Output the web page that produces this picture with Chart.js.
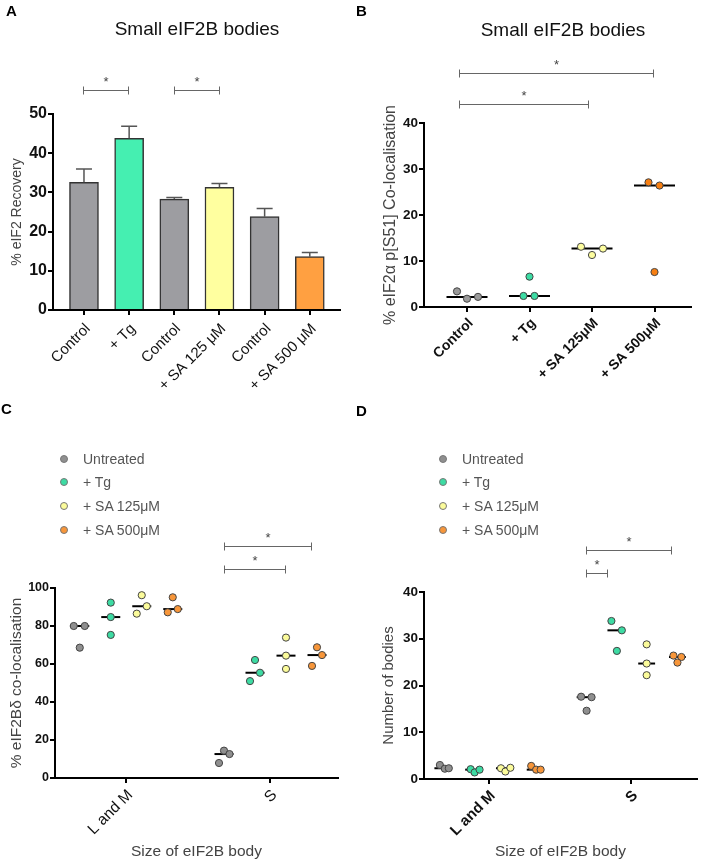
<!DOCTYPE html>
<html lang="en">
<head>
  <meta charset="UTF-8">
  <script src="https://cdn.jsdelivr.net/npm/chart.js@4"></script>
  <title>Small eIF2B bodies</title>
  <style>
    body { margin: 0; background: #fff; font-family: "Liberation Sans", Arial, sans-serif; }
    #fig { position: relative; width: 702px; height: 863px; overflow: hidden; }
    #fig canvas { position: absolute; }
    .letter { position: absolute; font-weight: bold; font-size: 15px; line-height: 15px; color: #000; }
    .title { position: absolute; font-size: 19px; line-height: 19px; color: #111; white-space: nowrap; transform: translateX(-50%); }
    .legend { position: absolute; font-size: 14px; color: #555; }
    .lrow { height: 23.6px; display: flex; align-items: center; white-space: nowrap; }
    .dot { width: 8px; height: 8px; border-radius: 50%; border: 1px solid #777; box-sizing: border-box; margin-right: 15px; }
  </style>
</head>
<body>
  <div id="fig">
    <canvas id="chartA" width="351" height="400" style="left:0;top:0"></canvas>
    <canvas id="chartB" width="351" height="400" style="left:351px;top:0"></canvas>
    <canvas id="chartC" width="351" height="463" style="left:0;top:400px"></canvas>
    <canvas id="chartD" width="351" height="463" style="left:351px;top:400px"></canvas>

    <div class="letter" style="left:6px;top:3px">A</div>
    <div class="letter" style="left:356px;top:3px">B</div>
    <div class="letter" style="left:1px;top:401px">C</div>
    <div class="letter" style="left:356px;top:403px">D</div>
    <div class="title" style="left:197px;top:19px">Small eIF2B bodies</div>
    <div class="title" style="left:563px;top:20px">Small eIF2B bodies</div>
    <div class="legend" id="legendC" style="left:60px;top:447px"></div>
    <div class="legend" id="legendD" style="left:439px;top:447px"></div>
  </div>

  <script>
    // ---- data ----
    // A: % eIF2 recovery, mean + SEM
    const A_LABELS = ['Control', '+ Tg', 'Control', '+ SA 125 μM', 'Control', '+ SA 500 μM'];
    const A_MEANS = [32.6, 43.8, 28.3, 31.3, 23.8, 13.6];
    const A_SEM = [3.4, 3.1, 0.4, 1.0, 2.1, 1.1];

    // B: % eIF2α p[S51] co-localisation, three replicates per treatment
    const B_LABELS = ['Control', '+ Tg', '+ SA 125μM', '+ SA 500μM'];
    const B_CONTROL = [3.4, 1.8, 2.2];
    const B_TG = [6.6, 2.4, 2.4];
    const B_SA125 = [13.1, 11.3, 12.7];
    const B_SA500 = [27.1, 26.4, 7.6];

    // C and D: per body size [L and M, S]
    const SIZE_LABELS = ['L and M', 'S'];
    const GROUPS = ['Untreated', '+ Tg', '+ SA 125μM', '+ SA 500μM'];

    const C_UNTREATED = [[80.0, 80.0, 68.6], [14.4, 12.6, 7.9]];
    const C_TG = [[92.3, 84.7, 75.3], [62.1, 55.4, 51.0]];
    const C_SA125 = [[96.2, 90.4, 86.5], [73.9, 64.4, 57.4]];
    const C_SA500 = [[95.1, 88.9, 87.2], [68.8, 64.7, 59.0]];

    const D_UNTREATED = [[3.0, 2.2, 2.3], [17.6, 17.5, 14.6]];
    const D_TG = [[2.1, 1.4, 2.0], [33.8, 31.8, 27.4]];
    const D_SA125 = [[2.3, 1.6, 2.4], [28.8, 24.7, 22.2]];
    const D_SA500 = [[2.8, 2.0, 2.0], [26.4, 26.1, 24.9]];

    // ---- layout / style ----
    const GEO = {
      A: { w: 351, h: 400, left: 53, right: 340, top: 114, bottom: 310, min: -0.686, max: 5.669 },
      B: { w: 351, h: 400, left: 73, right: 340, top: 123, bottom: 307, min: -0.688, max: 3.584 },
      C: { w: 351, h: 463, left: 55, right: 338, top: 188, bottom: 378, min: -0.494, max: 1.468 },
      D: { w: 351, h: 463, left: 73, right: 348, top: 192, bottom: 379, min: -0.457, max: 1.462 }
    };
    // horizontal spread of replicate dots, in pixels
    const B_SPREAD = [[-10, 0, 11], [0, -6, 5], [-11, 0, 11], [-6, 5, 0]];
    const C_SPREAD = [
      [[-6, 5, 0], [0, 5.5, -5]],
      [[0, 0, 0], [0, 5, -5]],
      [[0, 5, -5], [0, 0, 0]],
      [[0, 5, -5], [0, 5, -5]]
    ];
    const D_SPREAD = [
      [[-3, 2, 6], [-4, 6.5, 1.5]],
      [[-3, 1, 6], [-4.5, 6, 1]],
      [[-3.5, 1, 6], [0, 0, 0]],
      [[-4, 1, 5.5], [-4, 4, 0]]
    ];
    const GROUP_STEP_PX = 31;

    const BAR_COLORS = ['#9d9da1', '#45efb1', '#9d9da1', '#ffff9f', '#9d9da1', '#ffa041'];
    const B_COLORS = ['#9b9b9b', '#3cdca4', '#fdfd9f', '#f77f12'];
    const CD_COLORS = ['#8f8f8f', '#3ddba3', '#fbfb9a', '#f7963a'];
    const FONT = '"Liberation Sans", Arial, sans-serif';

    Chart.defaults.font.family = FONT;
    Chart.defaults.color = '#111';
    Chart.defaults.animation = false;
    Chart.defaults.plugins.legend.display = false;
    Chart.defaults.plugins.tooltip.enabled = false;

    const median = a => { const s = [...a].sort((p, q) => p - q); return s[Math.floor(s.length / 2)]; };
    const perPx = g => (g.max - g.min) / (g.right - g.left);

    const errorBars = {
      id: 'errorBars',
      afterDatasetsDraw(chart, args, o) {
        const { ctx, scales: { x, y } } = chart;
        ctx.save();
        ctx.strokeStyle = '#555';
        ctx.lineWidth = 1.5;
        o.means.forEach((m, i) => {
          const px = x.getPixelForValue(i);
          const y0 = y.getPixelForValue(m), y1 = y.getPixelForValue(m + o.sem[i]);
          ctx.beginPath();
          ctx.moveTo(px, y0); ctx.lineTo(px, y1);
          ctx.moveTo(px - 8, y1); ctx.lineTo(px + 8, y1);
          ctx.stroke();
        });
        ctx.restore();
      }
    };

    const sigBrackets = {
      id: 'sigBrackets',
      afterDraw(chart, args, o) {
        const { ctx, scales: { x, y } } = chart;
        ctx.save();
        ctx.strokeStyle = '#666';
        ctx.fillStyle = '#444';
        ctx.lineWidth = 1;
        ctx.font = '13px ' + FONT;
        ctx.textAlign = 'center';
        ctx.textBaseline = 'alphabetic';
        (o.items || []).forEach(b => {
          const x0 = Math.round(x.getPixelForValue(b.x0)) + 0.5;
          const x1 = Math.round(x.getPixelForValue(b.x1)) + 0.5;
          const py = Math.round(y.getPixelForValue(b.y)) + 0.5;
          ctx.beginPath();
          ctx.moveTo(x0, py); ctx.lineTo(x1, py);
          ctx.moveTo(x0, py - 4); ctx.lineTo(x0, py + 4);
          ctx.moveTo(x1, py - 4); ctx.lineTo(x1, py + 4);
          ctx.stroke();
          ctx.fillText('*', (x0 + x1) / 2, py - 5);
        });
        ctx.restore();
      }
    };

    function axisBase(tickLen) {
      return {
        offset: false,
        grid: { offset: false, drawOnChartArea: false, drawTicks: true, tickLength: tickLen, color: '#000', lineWidth: 2 },
        border: { display: true, color: '#000', width: 2 }
      };
    }

    function catAxis(g, labels, font, title, pad) {
      return Object.assign(axisBase(5), {
        type: 'linear', min: g.min, max: g.max,
        afterBuildTicks: s => { s.ticks = labels.map((_, i) => ({ value: i })); },
        afterFit: s => { s.height = g.h - g.bottom; },
        ticks: { autoSkip: false, minRotation: 45, maxRotation: 45, padding: pad, labelOffset: 4,
                 font, color: '#111', callback: v => labels[v] },
        title: title || { display: false }
      });
    }

    function valAxis(g, max, step, font, title) {
      return Object.assign(axisBase(5), {
        type: 'linear', min: 0, max,
        afterFit: s => { s.width = g.left; },
        ticks: { stepSize: step, padding: 1, font, color: '#111' },
        title
      });
    }

    function frame(g) {
      return { padding: { left: 0, top: g.top, right: g.w - g.right, bottom: 0 } };
    }

    function yTitle(text, size, centreX) {
      const lh = size * 1.2;
      return { display: true, text, color: '#444', font: { size, lineHeight: 1.2 },
               padding: { top: centreX - lh / 2, bottom: 0 } };
    }

    function medianLine(cx, hw, m) {
      return { type: 'line', data: [{ x: cx - hw, y: m }, { x: cx + hw, y: m }],
               borderColor: '#000', borderWidth: 2, pointRadius: 0, order: 2 };
    }

    function dots(pts, color, r) {
      return { type: 'scatter', data: pts, backgroundColor: color, borderColor: '#444',
               borderWidth: 1, pointRadius: r, order: 0 };
    }

    // ---- A: bars ----
    const gA = GEO.A;
    new Chart(document.getElementById('chartA'), {
      type: 'bar',
      data: {
        datasets: [{
          data: A_MEANS.map((m, i) => ({ x: i, y: m })),
          backgroundColor: BAR_COLORS,
          borderColor: '#333',
          borderWidth: 1.5,
          barThickness: 29
        }]
      },
      options: {
        responsive: false,
        layout: frame(gA),
        scales: {
          x: catAxis(gA, A_LABELS, { size: 15 }, null, 5),
          y: valAxis(gA, 50, 10, { size: 16, weight: 'bold' }, yTitle('% eIF2 Recovery', 14, 17))
        },
        plugins: {
          errorBars: { means: A_MEANS, sem: A_SEM },
          sigBrackets: { items: [{ x0: -0.03, x1: 0.97, y: 56.1 }, { x0: 2, x1: 3, y: 56.1 }] }
        }
      },
      plugins: [errorBars, sigBrackets]
    });

    // ---- B: dot plot with medians ----
    const gB = GEO.B;
    const bSets = [];
    [B_CONTROL, B_TG, B_SA125, B_SA500].forEach((vals, i) => {
      bSets.push(medianLine(i, 20.5 * perPx(gB), median(vals)));
      bSets.push(dots(vals.map((v, k) => ({ x: i + B_SPREAD[i][k] * perPx(gB), y: v })), B_COLORS[i], 3.6));
    });
    new Chart(document.getElementById('chartB'), {
      type: 'scatter',
      data: { datasets: bSets },
      options: {
        responsive: false,
        layout: frame(gB),
        scales: {
          x: catAxis(gB, B_LABELS, { size: 14, weight: 'bold' }, null, 3),
          y: valAxis(gB, 40, 10, { size: 13.5, weight: 'bold' }, yTitle('% eIF2α p[S51] Co-localisation', 16, 40))
        },
        plugins: {
          sigBrackets: { items: [{ x0: -0.13, x1: 1.94, y: 44.2 }, { x0: -0.13, x1: 2.97, y: 50.8 }] }
        }
      },
      plugins: [sigBrackets]
    });

    // ---- C and D: grouped dot plots ----
    function groupedSets(g, series, spread, hwPx) {
      const u = perPx(g);
      const sets = [];
      series.forEach((byCat, gi) => {
        const pts = [];
        byCat.forEach((vals, c) => {
          const cx = c + (gi - 1.5) * GROUP_STEP_PX * u;
          sets.push(medianLine(cx, hwPx * u, median(vals)));
          vals.forEach((v, k) => pts.push({ x: cx + spread[gi][c][k] * u, y: v }));
        });
        sets.push(dots(pts, CD_COLORS[gi], 3.6));
      });
      return sets;
    }

    const xTitle = { display: true, text: 'Size of eIF2B body', color: '#444',
                     font: { size: 15.5, lineHeight: 1.2 }, padding: { top: 0, bottom: 1.5 } };

    const gC = GEO.C;
    new Chart(document.getElementById('chartC'), {
      type: 'scatter',
      data: { datasets: groupedSets(gC, [C_UNTREATED, C_TG, C_SA125, C_SA500], C_SPREAD, 9.5) },
      options: {
        responsive: false,
        layout: frame(gC),
        scales: {
          x: catAxis(gC, SIZE_LABELS, { size: 15.5 }, xTitle, 3),
          y: valAxis(gC, 100, 20, { size: 12.5, weight: 'bold' }, yTitle('% eIF2Bδ co-localisation', 15.5, 17))
        },
        plugins: {
          sigBrackets: { items: [{ x0: 0.678, x1: 1.103, y: 110.2 }, { x0: 0.678, x1: 1.281, y: 122.3 }] }
        }
      },
      plugins: [sigBrackets]
    });

    const gD = GEO.D;
    new Chart(document.getElementById('chartD'), {
      type: 'scatter',
      data: { datasets: groupedSets(gD, [D_UNTREATED, D_TG, D_SA125, D_SA500], D_SPREAD, 8.5) },
      options: {
        responsive: false,
        layout: frame(gD),
        scales: {
          x: catAxis(gD, SIZE_LABELS, { size: 15, weight: 'bold' }, xTitle, 3),
          y: valAxis(gD, 40, 10, { size: 13.5, weight: 'bold' }, yTitle('Number of bodies', 15, 37.5))
        },
        plugins: {
          sigBrackets: { items: [{ x0: 0.681, x1: 0.826, y: 44.1 }, { x0: 0.681, x1: 1.279, y: 48.9 }] }
        }
      },
      plugins: [sigBrackets]
    });

    // ---- legends for C and D ----
    function buildLegend(id) {
      const el = document.getElementById(id);
      GROUPS.forEach((name, i) => {
        const row = document.createElement('div');
        row.className = 'lrow';
        const dot = document.createElement('span');
        dot.className = 'dot';
        dot.style.background = CD_COLORS[i];
        const txt = document.createElement('span');
        txt.textContent = name;
        row.appendChild(dot);
        row.appendChild(txt);
        el.appendChild(row);
      });
    }
    buildLegend('legendC');
    buildLegend('legendD');
  </script>
</body>
</html>
